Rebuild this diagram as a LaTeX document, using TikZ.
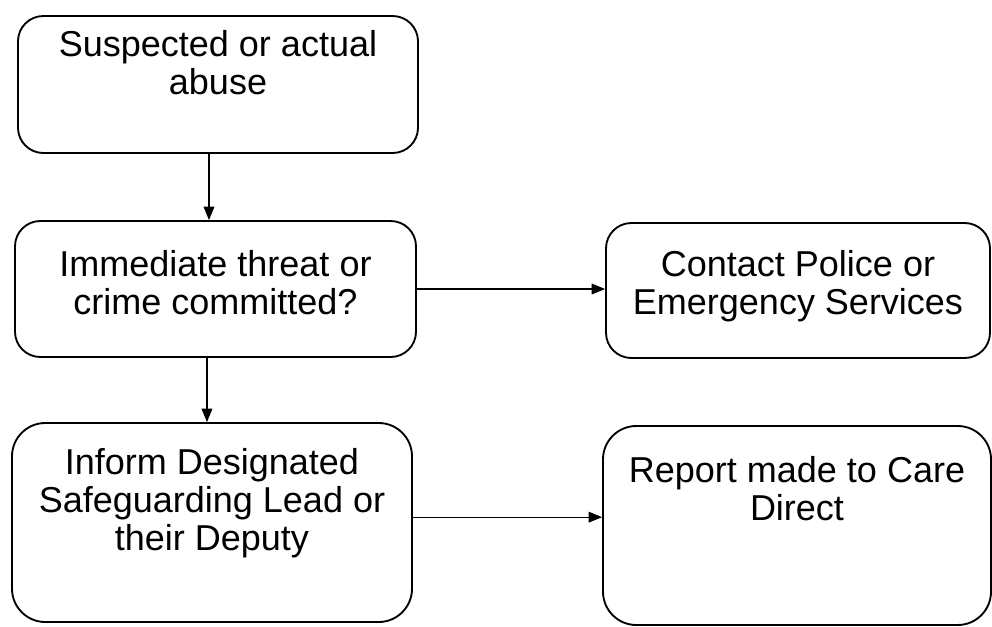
\documentclass[tikz,border=0pt]{standalone}
\usepackage{fontspec}
\setmainfont{Liberation Sans}
\usetikzlibrary{arrows.meta}
\begin{document}
\begin{tikzpicture}[x=0.75pt,y=-0.75pt,
  box/.style={draw=black, line width=1.4pt, rounded corners=#1, inner sep=0pt},
  txt/.style={inner sep=0pt, align=center, anchor=north, font=\fontsize{27}{28.5}\selectfont},
  arr/.style={draw=black, line width=0.8pt, -{Triangle[length=10pt,width=8pt]}}]
\useasboundingbox[fill=white] (0,0) rectangle (992,626);
% boxes
\node[box=19pt, minimum width=300pt, minimum height=102.75pt] (b1) at (218,84.5) {};
\node[box=19pt, minimum width=300.75pt, minimum height=102pt] (b2) at (215.5,289) {};
\node[box=25pt, minimum width=300pt, minimum height=149.25pt] (b3) at (212,522.5) {};
\node[box=19pt, minimum width=288pt, minimum height=101.25pt] (b4) at (798,290.5) {};
\node[box=25pt, minimum width=291pt, minimum height=149.25pt] (b5) at (797,525.5) {};
% texts
\node[txt] (t1) at (218,30) {Suspected or actual\\abuse};
\node[txt] (t2) at (215.5,250) {Immediate threat or\\crime committed?};
\node[txt] (t3) at (212,448) {Inform Designated\\Safeguarding Lead or\\their Deputy};
\node[txt] (t4) at (798,250) {Contact Police or\\Emergency Services};
\node[txt] (t5) at (797,456) {Report made to Care\\Direct};
% connectors
\draw[arr] ([xshift=-6.75pt]b1.south) -- ([xshift=-6.75pt]b1.south |- b2.north);
\draw[arr] ([xshift=-6.4pt]b2.south) -- ([xshift=-6.4pt]b2.south |- b3.north);
\draw[arr] (b2.east) -- (b2.east -| b4.west);
\draw[arr] ([yshift=4pt]b3.east) -- ([yshift=4pt]b3.east -| b5.west);
\end{tikzpicture}
\end{document}
